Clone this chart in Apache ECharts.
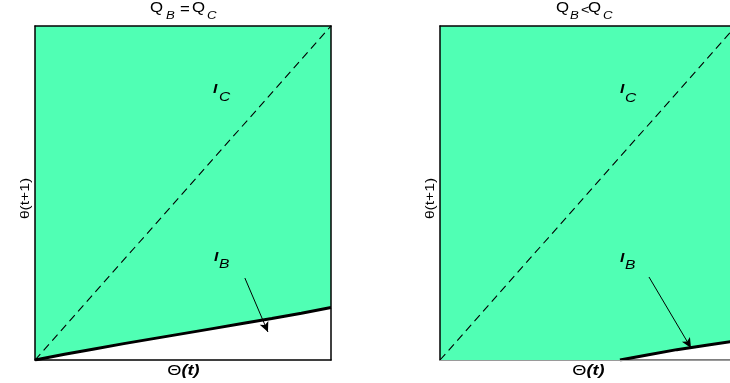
<!DOCTYPE html>
<html>
<head>
<meta charset="utf-8">
<script src="https://cdn.jsdelivr.net/npm/echarts@6/dist/echarts.min.js"></script>
<style>
  html, body { margin: 0; padding: 0; background: #fff; }
  #chart { width: 730px; height: 383px; }
</style>
</head>
<body>
<div id="chart"></div>
<script>
// Boundary curve of the indifference region, case Q_B = Q_C (theta(t), theta(t+1))
const leftCurveX = [0, 0.1, 0.2, 0.3, 0.4, 0.5, 0.6, 0.7, 0.8, 0.9, 1.0];
const leftCurveY = [0, 0.017, 0.033, 0.049, 0.064, 0.079, 0.094, 0.109, 0.124, 0.140, 0.157];

// Boundary curve, case Q_B < Q_C (starts on the horizontal axis)
const rightCurveX = [0.608, 0.7, 0.8, 0.9, 1.0];
const rightCurveY = [0, 0.015, 0.031, 0.044, 0.057];

// 45-degree reference line theta(t+1) = theta(t)
const diagX = [0, 1];
const diagY = [0, 1];

// Arrows from the I_B label to the curve: [x0, y0, x1, y1]
const arrowLeft = [0.709, 0.2455, 0.787, 0.0838];
const arrowRight = [0.706, 0.2485, 0.848, 0.036];

const GREEN = '#50FFB4';
const FONT = '"Liberation Sans", Arial, Helvetica, sans-serif';
const STRETCH = 1.2;   // text is drawn slightly wide

function pts(xs, ys) { return xs.map((x, i) => [x, ys[i]]); }

const chart = echarts.init(document.getElementById('chart'), null, { renderer: 'canvas' });

const grids = [
  { left: 35, top: 26, width: 296, height: 334, outerBoundsMode: 'none', containLabel: false },
  { left: 440, top: 26, width: 296, height: 334, outerBoundsMode: 'none', containLabel: false }
];

function axisBase(extra) {
  return Object.assign({
    type: 'value', min: 0, max: 1, z: 5,
    axisTick: { show: false }, axisLabel: { show: false }, splitLine: { show: false },
    axisLine: { show: true, onZero: false, lineStyle: { color: '#000', width: 1.5 } }
  }, extra);
}

const xAxes = [
  axisBase({ gridIndex: 0, position: 'bottom' }),
  axisBase({ gridIndex: 0, position: 'top' }),
  axisBase({ gridIndex: 1, position: 'bottom',
    axisLine: { show: true, onZero: false, lineStyle: { color: '#9a9a9a', width: 1.2 } } }),
  axisBase({ gridIndex: 1, position: 'top' })
];

const yAxes = [
  axisBase({ gridIndex: 0, position: 'left' }),
  axisBase({ gridIndex: 0, position: 'right' }),
  axisBase({ gridIndex: 1, position: 'left' }),
  axisBase({ gridIndex: 1, position: 'right' })
];

function fillSeries(xi, yi, data) {
  return { type: 'line', xAxisIndex: xi, yAxisIndex: yi, data: data, symbol: 'none', z: 1,
    lineStyle: { width: 0 }, areaStyle: { origin: 'end', color: GREEN, opacity: 1 }, silent: true };
}
function curveSeries(xi, yi, data) {
  return { type: 'line', xAxisIndex: xi, yAxisIndex: yi, data: data, symbol: 'none', z: 4,
    lineStyle: { color: '#000', width: 3 }, silent: true };
}
function diagSeries(xi, yi) {
  return { type: 'line', xAxisIndex: xi, yAxisIndex: yi, data: pts(diagX, diagY), symbol: 'none', z: 3,
    lineStyle: { color: '#000', width: 1.1, type: [8, 5] }, silent: true };
}
function arrowSeries(xi, yi, a) {
  return { type: 'line', xAxisIndex: xi, yAxisIndex: yi, data: [], symbol: 'none', z: 4,
    markLine: { silent: true, symbol: ['none', 'arrow'], symbolSize: [7, 10],
      label: { show: false },
      lineStyle: { color: '#000', width: 1, type: 'solid' },
      data: [[{ coord: [a[0], a[1]] }, { coord: [a[2], a[3]] }]] } };
}

const series = [
  fillSeries(0, 0, pts(leftCurveX, leftCurveY)),
  diagSeries(0, 0),
  curveSeries(0, 0, pts(leftCurveX, leftCurveY)),
  arrowSeries(0, 0, arrowLeft),

  fillSeries(2, 2, [[0, 0]].concat(pts(rightCurveX, rightCurveY))),
  diagSeries(2, 2),
  // bottom frame under the white region
  { type: 'line', xAxisIndex: 2, yAxisIndex: 2, data: [[rightCurveX[0], 0], [1, 0]], symbol: 'none', z: 3,
    lineStyle: { color: '#000', width: 1.2 }, silent: true, clip: false },
  curveSeries(2, 2, pts(rightCurveX, rightCurveY)),
  arrowSeries(2, 2, arrowRight)
];

// Text pieces, left-anchored at (x, y) and stretched horizontally
function txt(x, y, text, font, opts) {
  return Object.assign({ type: 'text', z: 100, x: x, y: y, scaleX: STRETCH, scaleY: 1,
    style: { x: 0, y: 0, text: text, fill: '#000', align: 'left', verticalAlign: 'middle', font: font } }, opts || {});
}
const F = (size) => 'normal ' + size + 'px ' + FONT;
const FI = (size) => 'italic normal ' + size + 'px ' + FONT;
const FBI = (size) => 'italic bold ' + size + 'px ' + FONT;

function xLabel(cx, y) {
  return { type: 'text', z: 100, x: cx, y: y, scaleX: 1.3, scaleY: 1,
    style: { x: 0, y: 0, text: '{a|Θ}{b|(t)}', align: 'center', verticalAlign: 'middle',
      rich: { a: { font: F(14), fill: '#000' }, b: { font: FBI(14), fill: '#000' } } } };
}
function yLabel(cx, cy) {
  return { type: 'text', z: 100, x: cx, y: cy, rotation: Math.PI / 2, scaleX: 1.3, scaleY: 1.05,
    style: { x: 0, y: 0, text: 'θ(t+1)', fill: '#000', align: 'center', verticalAlign: 'middle', font: F(12) } };
}

const graphics = [
  // titles
  txt(150, 8.5, 'Q', F(14)), txt(166, 15.5, 'B', FI(11)), txt(180, 10.5, '=', F(14)),
  txt(192, 8.5, 'Q', F(14)), txt(207, 15.5, 'C', FI(11)),
  txt(556, 8.5, 'Q', F(14)), txt(570, 15.5, 'B', FI(11)), txt(581, 10.5, '<', F(12)),
  txt(588, 8.5, 'Q', F(14)), txt(603, 15.5, 'C', FI(11)),
  // curve labels
  txt(213, 89.5, 'I', FBI(13)), txt(219, 97.5, 'C', FI(13)),
  txt(214, 257.5, 'I', FBI(13)), txt(219, 264.5, 'B', FI(13)),
  txt(620, 89.5, 'I', FBI(13)), txt(625, 98.5, 'C', FI(13)),
  txt(620, 258, 'I', FBI(13)), txt(625, 265, 'B', FI(13)),
  // axis titles
  xLabel(183.5, 371), xLabel(588.5, 371),
  yLabel(26, 198.5), yLabel(431, 198.5)
];

chart.setOption({
  animation: false,
  backgroundColor: '#fff',
  grid: grids,
  xAxis: xAxes,
  yAxis: yAxes,
  series: series,
  graphic: graphics
});
</script>
</body>
</html>
